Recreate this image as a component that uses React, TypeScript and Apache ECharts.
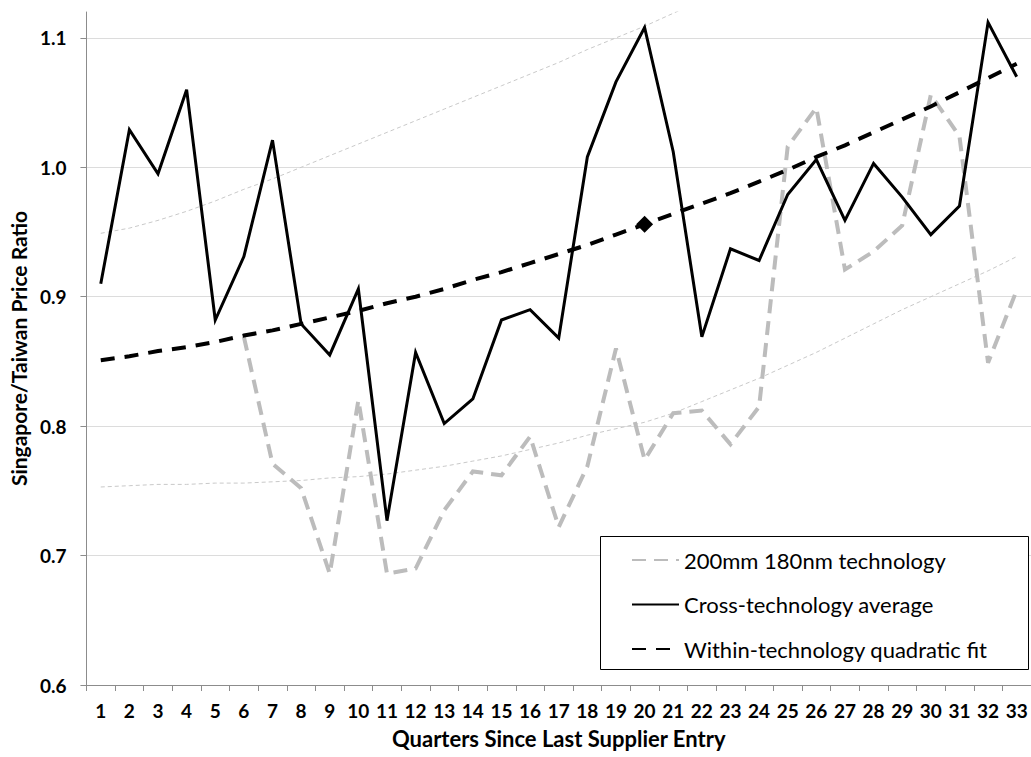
import { useEffect, useRef } from "react";
import * as echarts from "echarts";

// Quarter categories on the x axis
const quarters = [
  "1", "2", "3", "4", "5", "6", "7", "8", "9", "10", "11",
  "12", "13", "14", "15", "16", "17", "18", "19", "20", "21", "22",
  "23", "24", "25", "26", "27", "28", "29", "30", "31", "32", "33",
];

// Value-axis ticks
const yTicks = [0.6, 0.7, 0.8, 0.9, 1.0, 1.1];
const yMin = 0.6;
const yMax = 1.12;

// 200mm 180nm technology (no data before quarter 6)
const tech180nm = [
  null, null, null, null, null, 0.869, 0.771, 0.752, 0.686, 0.820, 0.686,
  0.690, 0.735, 0.765, 0.762, 0.792, 0.722, 0.769, 0.860, 0.774, 0.810, 0.812,
  0.786, 0.815, 1.016, 1.046, 0.921, 0.935, 0.955, 1.056, 1.024, 0.849, 0.905,
];

// Cross-technology average
const crossTechAverage = [
  0.910, 1.029, 0.995, 1.060, 0.882, 0.931, 1.021, 0.879, 0.855, 0.906, 0.727,
  0.857, 0.802, 0.821, 0.882, 0.890, 0.868, 1.008, 1.066, 1.108, 1.012, 0.869,
  0.937, 0.928, 0.979, 1.006, 0.959, 1.003, 0.977, 0.948, 0.970, 1.112, 1.070,
];

// Within-technology quadratic fit
const quadraticFit = [
  0.851, 0.854, 0.858, 0.861, 0.865, 0.870, 0.874, 0.879, 0.884, 0.889, 0.895,
  0.900, 0.906, 0.913, 0.919, 0.926, 0.933, 0.940, 0.948, 0.956, 0.964, 0.972,
  0.980, 0.989, 0.998, 1.008, 1.017, 1.027, 1.037, 1.047, 1.058, 1.069, 1.080,
];
const fitMarkerQuarter = 20;

// Confidence band around the fit
const upperBand = [
  0.949, 0.953, 0.959, 0.966, 0.974, 0.983, 0.991, 1.000, 1.009, 1.018, 1.027,
  1.036, 1.045, 1.054, 1.063, 1.072, 1.081, 1.091, 1.100, 1.109, 1.119, 1.129,
  null, null, null, null, null, null, null, null, null, null, null,
];
const lowerBand = [
  0.753, 0.754, 0.755, 0.755, 0.756, 0.756, 0.757, 0.758, 0.760, 0.761, 0.763,
  0.766, 0.769, 0.773, 0.777, 0.782, 0.787, 0.793, 0.798, 0.803, 0.810, 0.819,
  0.828, 0.837, 0.847, 0.857, 0.868, 0.879, 0.890, 0.900, 0.910, 0.920, 0.931,
];

const FONT = "Lato, 'Open Sans', sans-serif";
const AXIS_GREY = "#8c8c8c";

export default function App() {
  const ref = useRef<HTMLDivElement>(null);

  useEffect(() => {
    if (!ref.current) return;
    const chart = echarts.init(ref.current, null, { renderer: "svg" });

    const bandStyle = {
      color: "#c9c9c9",
      width: 1,
      type: [4, 3] as number[],
    };

    chart.setOption({
      animation: false,
      backgroundColor: "#ffffff",
      grid: { left: 84, right: -2, top: 12, bottom: 72 },
      xAxis: {
        type: "category",
        data: quarters,
        boundaryGap: true,
        name: "Quarters Since Last Supplier Entry",
        nameLocation: "middle",
        nameGap: 42,
        nameTextStyle: { fontFamily: FONT, fontWeight: "bold", fontSize: 22, color: "#000" },
        axisLine: { show: true, lineStyle: { color: AXIS_GREY, width: 1 } },
        axisTick: { show: true, length: 6, lineStyle: { color: AXIS_GREY } },
        axisLabel: {
          interval: 0,
          margin: 16,
          fontFamily: FONT,
          fontWeight: "bold",
          fontSize: 19,
          color: "#000",
        },
        splitLine: { show: false },
      },
      yAxis: {
        type: "value",
        min: yMin,
        max: yMax,
        interval: 0.1,
        name: "Singapore/Taiwan Price Ratio",
        nameLocation: "middle",
        nameGap: 51,
        nameTextStyle: { fontFamily: FONT, fontWeight: "bold", fontSize: 21, color: "#000" },
        axisLine: { show: true, lineStyle: { color: AXIS_GREY, width: 1 } },
        axisTick: {
          show: true,
          length: 6,
          customValues: yTicks,
          lineStyle: { color: AXIS_GREY },
        },
        axisLabel: {
          customValues: yTicks,
          margin: 20,
          fontFamily: FONT,
          fontWeight: "bold",
          fontSize: 19,
          color: "#000",
          formatter: (v: number) => v.toFixed(1),
        },
        splitLine: {
          show: true,
          lineStyle: { color: "#dcdcdc", width: 1 },
        },
      },
      legend: {
        orient: "vertical",
        left: 631,
        top: 549,
        padding: 0,
        itemWidth: 47,
        itemHeight: 20,
        itemGap: 22.5,
        selectedMode: false,
        z: 10,
        itemStyle: { opacity: 0 },
        textStyle: { fontFamily: FONT, fontSize: 22, lineHeight: 20, color: "#000" },
        data: [
          { name: "200mm 180nm technology" },
          { name: "Cross-technology average" },
          { name: "Within-technology quadratic fit" },
        ],
      },
      graphic: [
        {
          type: "rect",
          left: 600,
          top: 536,
          z: 3,
          shape: { width: 428, height: 133 },
          style: { fill: "#ffffff", stroke: "#000000", lineWidth: 1 },
        },
      ],
      series: [
        {
          name: "Upper band",
          type: "line",
          data: upperBand,
          symbol: "none",
          lineStyle: bandStyle,
          z: 1,
        },
        {
          name: "Lower band",
          type: "line",
          data: lowerBand,
          symbol: "none",
          lineStyle: bandStyle,
          z: 1,
        },
        {
          name: "200mm 180nm technology",
          type: "line",
          data: tech180nm,
          symbol: "none",
          connectNulls: false,
          itemStyle: { color: "#bcbcbc" },
          lineStyle: { color: "#bcbcbc", width: 4, type: [14, 8], join: "miter" },
          z: 2,
        },
        {
          name: "Cross-technology average",
          type: "line",
          data: crossTechAverage,
          symbol: "none",
          itemStyle: { color: "#000000" },
          lineStyle: { color: "#000000", width: 3, join: "miter" },
          z: 2,
        },
        {
          name: "Within-technology quadratic fit",
          type: "line",
          data: quadraticFit,
          symbol: "none",
          itemStyle: { color: "#000000" },
          lineStyle: { color: "#000000", width: 4, type: [14, 10] },
          z: 2,
        },
        {
          name: "Fit marker",
          type: "scatter",
          data: [[fitMarkerQuarter - 1, quadraticFit[fitMarkerQuarter - 1]]],
          symbol: "diamond",
          symbolSize: [17, 17],
          itemStyle: { color: "#000000", opacity: 1 },
          z: 2,
        },
      ],
    });

    return () => chart.dispose();
  }, []);

  return (
    <div
      ref={ref}
      style={{ position: "fixed", left: 0, top: 0, width: 1031, height: 757, background: "#fff" }}
    />
  );
}
